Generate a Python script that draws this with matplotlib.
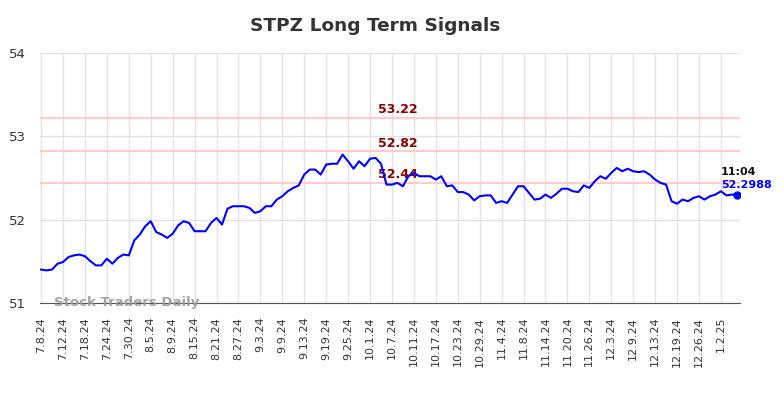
import matplotlib.pyplot as plt
import numpy as np

# closing values, one per trading day (7.8.24 .. 1.7.25)
prices = [51.40, 51.39, 51.40, 51.47, 51.49, 51.55, 51.57, 51.58, 51.56, 51.50,
          51.45, 51.45, 51.53, 51.47, 51.54, 51.58, 51.57, 51.75, 51.82, 51.92,
          51.98, 51.85, 51.82, 51.78, 51.83, 51.93, 51.98, 51.96, 51.86, 51.86,
          51.86, 51.96, 52.02, 51.94, 52.13, 52.16, 52.16, 52.16, 52.14, 52.08,
          52.10, 52.16, 52.16, 52.24, 52.28, 52.34, 52.38, 52.41, 52.54, 52.60,
          52.60, 52.54, 52.66, 52.67, 52.67, 52.78, 52.70, 52.61, 52.70, 52.64,
          52.73, 52.74, 52.67, 52.42, 52.42, 52.44, 52.40, 52.52, 52.56, 52.52,
          52.52, 52.52, 52.48, 52.52, 52.40, 52.41, 52.33, 52.33, 52.30, 52.23,
          52.28, 52.29, 52.29, 52.20, 52.22, 52.20, 52.30, 52.40, 52.40, 52.32,
          52.24, 52.25, 52.30, 52.26, 52.31, 52.37, 52.37, 52.34, 52.33, 52.41,
          52.38, 52.46, 52.52, 52.49, 52.56, 52.62, 52.58, 52.61, 52.58, 52.57,
          52.58, 52.54, 52.48, 52.44, 52.42, 52.22, 52.19, 52.24, 52.22, 52.26,
          52.28, 52.24, 52.28, 52.30, 52.34, 52.29, 52.30, 52.2988]

tick_labels = ["7.8.24", "7.12.24", "7.18.24", "7.24.24", "7.30.24", "8.5.24",
               "8.9.24", "8.15.24", "8.21.24", "8.27.24", "9.3.24", "9.9.24",
               "9.13.24", "9.19.24", "9.25.24", "10.1.24", "10.7.24", "10.11.24",
               "10.17.24", "10.23.24", "10.29.24", "11.4.24", "11.8.24", "11.14.24",
               "11.20.24", "11.26.24", "12.3.24", "12.9.24", "12.13.24", "12.19.24",
               "12.26.24", "1.2.25"]
tick_step = 4

levels = [53.22, 52.82, 52.44]
last_time = "11:04"

x = np.arange(len(prices))

fig = plt.figure(figsize=(7.84, 3.98), dpi=100)
ax = fig.add_axes([0.051, 0.239, 0.893, 0.628])

ax.grid(True, color='#e3e3e3', linewidth=1)
ax.set_axisbelow(True)

for lv in levels:
    ax.axhline(lv, color='#ffcccc', linewidth=1.6, zorder=1)
    ax.text(65, lv + 0.02, f"{lv:.2f}", color='#8b0000', fontsize=9,
            fontweight='bold', ha='center', va='bottom', zorder=2)

ax.plot(x, prices, color='#0000ff', linewidth=1.5, zorder=3)
ax.plot(x[-1], prices[-1], 'o', color='#0000ff', markersize=5, zorder=4)

ax.text(x[-1] - 3, prices[-1] + 0.21, last_time, fontsize=8,
        fontweight='bold', color='#111111', ha='left', va='bottom')
ax.text(x[-1] - 3, prices[-1] + 0.06, f"{prices[-1]:.4f}", fontsize=8,
        fontweight='bold', color='#0000ff', ha='left', va='bottom')

ax.text(2.3, 51.0, "Stock Traders Daily", fontsize=9.5, fontweight='bold',
        color='#999999', ha='left', va='center', alpha=0.9)

ax.set_xlim(-0.2, len(prices) - 0.5)
ax.set_ylim(51, 54)
ax.set_yticks([51, 52, 53, 54])
ax.set_xticks(x[::tick_step][:len(tick_labels)])
ax.set_xticklabels(tick_labels, rotation=90, fontsize=8)
ax.tick_params(axis='both', length=0, colors='#333333')
ax.tick_params(axis='y', labelsize=9.5, pad=10)
ax.tick_params(axis='x', pad=10)

for side in ['top', 'right', 'left']:
    ax.spines[side].set_visible(False)
ax.spines['bottom'].set_color('#555555')

fig.text(0.478, 0.935, "STPZ Long Term Signals", fontsize=13.3,
         fontweight='bold', color='#333333', ha='center', va='center')

plt.savefig("out.png", dpi=100)
plt.close()
